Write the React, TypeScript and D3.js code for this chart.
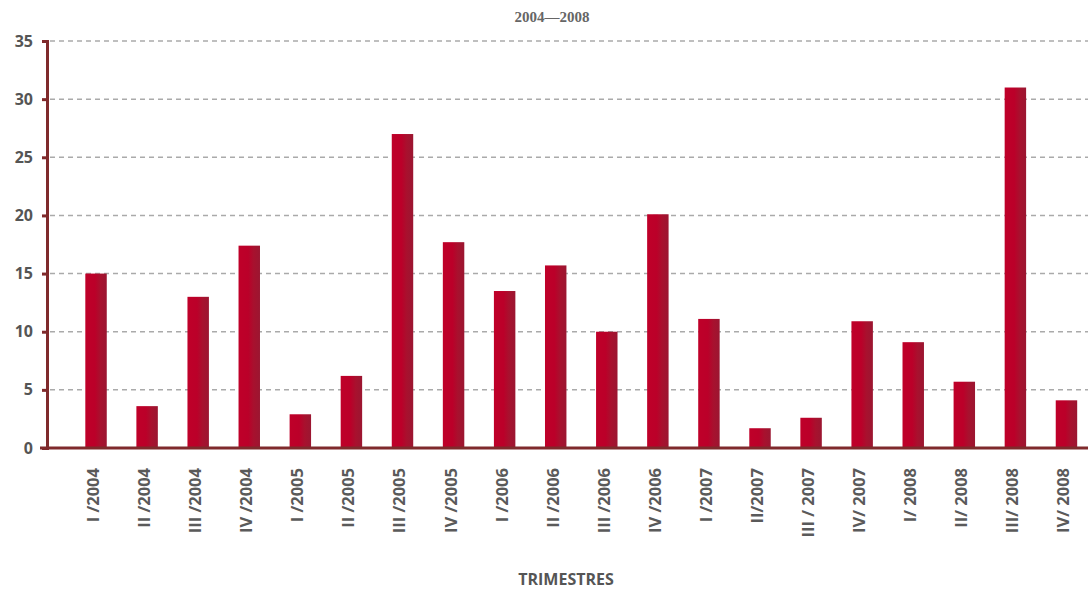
import React, { useEffect, useRef } from 'react';
import * as d3 from 'd3';

const quarters = [
  'I /2004', 'II /2004', 'III /2004', 'IV /2004',
  'I /2005', 'II /2005', 'III /2005', 'IV /2005',
  'I /2006', 'II /2006', 'III /2006', 'IV /2006',
  'I /2007', 'II/2007', 'III / 2007', 'IV/ 2007',
  'I/ 2008', 'II/ 2008', 'III/ 2008', 'IV/ 2008'
];
const values = [15, 3.6, 13, 17.4, 2.9, 6.2, 27, 17.7, 13.5, 15.7, 10, 20.1, 11.1, 1.7, 2.6, 10.9, 9.1, 5.7, 31, 4.1];
const yTicks = [0, 5, 10, 15, 20, 25, 30, 35];

const App = () => {
  const ref = useRef<SVGSVGElement>(null);

  useEffect(() => {
    const width = 1088;
    const height = 590;
    const svg = d3.select(ref.current);
    svg.selectAll('*').remove();

    const x = d3.scaleBand().domain(quarters).range([70.5, 1092]).paddingInner(0.58).paddingOuter(0.29);
    const y = d3.scaleLinear().domain([0, 35]).range([448, 41]);

    const grad = svg.append('defs').append('linearGradient').attr('id', 'barGrad').attr('x1', '0%').attr('x2', '100%');
    grad.append('stop').attr('offset', '0%').attr('stop-color', '#bf0029');
    grad.append('stop').attr('offset', '45%').attr('stop-color', '#bb0029');
    grad.append('stop').attr('offset', '70%').attr('stop-color', '#a8112e');
    grad.append('stop').attr('offset', '100%').attr('stop-color', '#9b1631');

    // gridlines
    svg.append('g')
      .selectAll('line')
      .data(yTicks.filter((t) => t > 0))
      .enter()
      .append('line')
      .attr('x1', 50)
      .attr('x2', width)
      .attr('y1', (d) => y(d))
      .attr('y2', (d) => y(d))
      .attr('stroke', '#aaaaaa')
      .attr('stroke-width', 1.5)
      .attr('stroke-dasharray', '5,4');

    // bars
    svg.append('g')
      .selectAll('rect')
      .data(values)
      .enter()
      .append('rect')
      .attr('x', (d, i) => x(quarters[i]))
      .attr('y', (d) => y(d))
      .attr('width', x.bandwidth())
      .attr('height', (d) => y(0) - y(d))
      .attr('fill', 'url(#barGrad)');

    // y axis
    const yAxis = svg.append('g').attr('transform', 'translate(47,0)')
      .call(d3.axisLeft(y).tickValues(yTicks).tickSize(5).tickPadding(9));
    yAxis.select('.domain').attr('stroke', '#7f2a2c').attr('stroke-width', 3);
    yAxis.selectAll('.tick line').attr('stroke', '#7f2a2c').attr('stroke-width', 3);
    yAxis.selectAll('.tick text')
      .attr('fill', '#555')
      .style('font-family', '"Open Sans", sans-serif')
      .style('font-weight', 700)
      .style('font-size', '16px');

    // x axis line
    svg.append('line')
      .attr('x1', 40)
      .attr('x2', width)
      .attr('y1', y(0))
      .attr('y2', y(0))
      .attr('stroke', '#7f2a2c')
      .attr('stroke-width', 3);

    // x labels
    svg.append('g')
      .selectAll('text')
      .data(quarters)
      .enter()
      .append('text')
      .attr('transform', (d) => `translate(${x(d) + x.bandwidth() / 2 + 3},468) rotate(-90)`)
      .attr('text-anchor', 'end')
      .attr('fill', '#5a5a5a')
      .style('font-family', '"Open Sans", sans-serif')
      .style('font-weight', 700)
      .style('font-size', '16.5px')
      .text((d) => d);

    svg.append('text')
      .attr('x', 552)
      .attr('y', 22)
      .attr('text-anchor', 'middle')
      .attr('fill', '#666')
      .style('font-family', '"Liberation Serif", serif')
      .style('font-weight', 700)
      .style('font-size', '15px')
      .text('2004\u20142008');

    svg.append('text')
      .attr('x', 566)
      .attr('y', 585)
      .attr('text-anchor', 'middle')
      .attr('fill', '#555')
      .style('font-family', '"Open Sans", sans-serif')
      .style('font-weight', 700)
      .style('font-size', '16px')
      .text('TRIMESTRES');

    svg.attr('width', width).attr('height', height);
  }, []);

  return (
    <svg ref={ref} width={1088} height={590} style={{ position: 'absolute', left: 0, top: 0, background: '#fff' }} />
  );
};

export default App;
